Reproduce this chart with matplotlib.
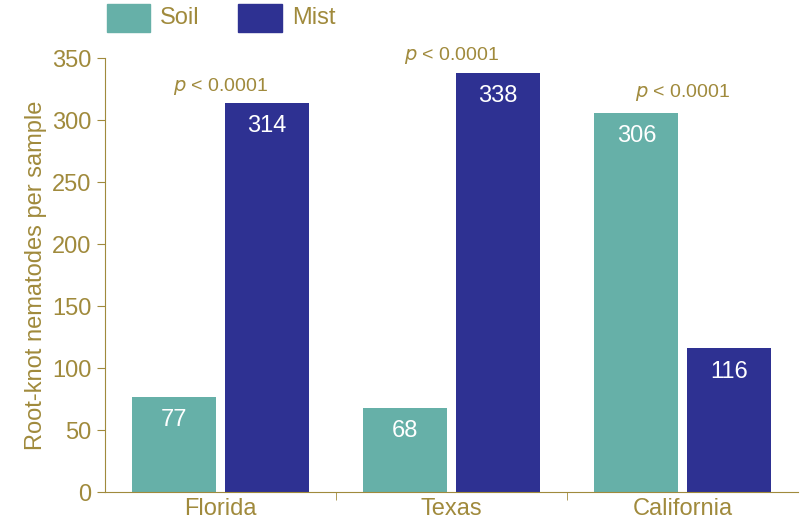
import matplotlib.pyplot as plt
import matplotlib.patches as mpatches
import numpy as np

plt.rcParams['font.family'] = ['Liberation Sans Narrow', 'Liberation Sans', 'DejaVu Sans']
plt.rcParams['mathtext.fontset'] = 'custom'
plt.rcParams['mathtext.it'] = 'Liberation Sans Narrow:italic'
plt.rcParams['mathtext.rm'] = 'Liberation Sans Narrow'

states = ['Florida', 'Texas', 'California']
soil = [77, 68, 306]
mist = [314, 338, 116]
pvals = ['$p$ < 0.0001', '$p$ < 0.0001', '$p$ < 0.0001']
p_heights = [327, 352, 322]

gold = '#a08a3c'
teal = '#66b0a8'
navy = '#2e3192'

x = np.arange(len(states))
width = 0.364
off = 0.201

fig = plt.figure(figsize=(8, 5.31), dpi=100)
ax = fig.add_axes([0.131, 0.0734, 0.867, 0.817])

ax.bar(x - off, soil, width=width, color=teal)
ax.bar(x + off, mist, width=width, color=navy)

for i in range(len(states)):
    ax.text(x[i] - off, soil[i] - 10, str(soil[i]), color='white', fontsize=17, ha='center', va='top')
    ax.text(x[i] + off, mist[i] - 10, str(mist[i]), color='white', fontsize=17, ha='center', va='top')
    ax.text(x[i], p_heights[i], pvals[i], color=gold, fontsize=14, ha='center', va='center')

ax.set_xlim(-0.5, 2.5)
ax.set_ylim(0, 350)
ax.set_yticks(range(0, 351, 50))
ax.set_xticks(x)
ax.set_xticklabels(states)
ax.set_xticks([0.5, 1.5], minor=True)
ax.tick_params(axis='x', which='major', length=0, labelsize=17, colors=gold, pad=4)
ax.tick_params(axis='x', which='minor', length=6, color=gold)
ax.tick_params(axis='y', length=6, labelsize=17, colors=gold)
for s in ['top', 'right']:
    ax.spines[s].set_visible(False)
for s in ['left', 'bottom']:
    ax.spines[s].set_color(gold)
ax.set_ylabel('Root-knot nematodes per sample', color=gold, fontsize=17)

# legend above the axes
fig.patches.append(mpatches.Rectangle((107/800, 1 - 32/531), 43/800, 28/531, color=teal, transform=fig.transFigure))
fig.text(160/800, 1 - 18/531, 'Soil', color=gold, fontsize=17, va='center')
fig.patches.append(mpatches.Rectangle((238/800, 1 - 32/531), 44/800, 28/531, color=navy, transform=fig.transFigure))
fig.text(292/800, 1 - 18/531, 'Mist', color=gold, fontsize=17, va='center')

plt.savefig('out.png', dpi=100)
